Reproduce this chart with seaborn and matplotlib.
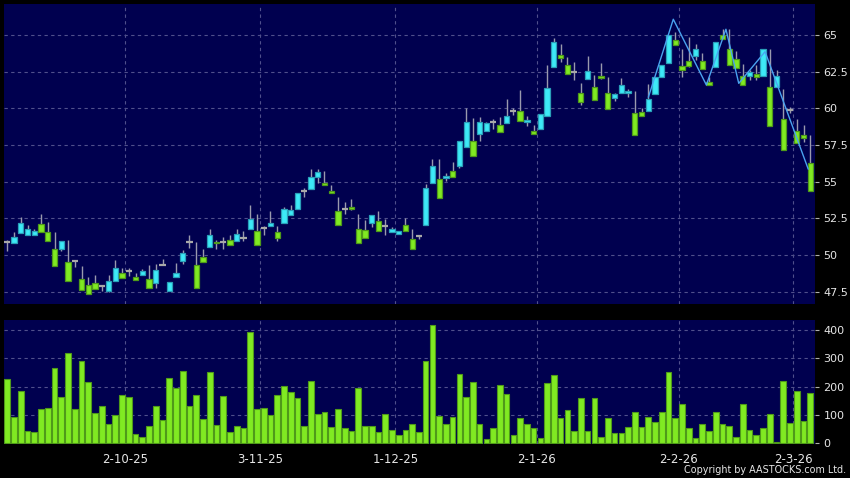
import numpy as np
import pandas as pd
import matplotlib
matplotlib.use("Agg")
import matplotlib.pyplot as plt
import seaborn as sns

# HK trading days, 5 Sep 2025 - 4 Mar 2026
holidays = ['2025-10-01', '2025-10-07', '2025-10-29', '2025-12-25', '2025-12-26',
            '2026-01-01', '2026-02-17', '2026-02-18', '2026-02-19']
dates = pd.bdate_range('2025-09-05', '2026-03-04')
dates = dates[~dates.isin(pd.to_datetime(holidays))]

opens = [50.90, 50.84, 51.52, 51.34, 51.34, 52.66, 52.23, 51.55, 50.43, 50.89,
         49.59, 49.16, 48.52, 48.48, 47.91, 47.52, 48.20, 49.09, 48.89, 48.75,
         48.66, 49.00, 48.07, 49.30, 47.52, 48.52, 49.57, 50.87, 50.87, 50.25,
         50.52, 51.00, 50.89, 51.39, 50.98, 51.18, 51.80, 52.57, 51.86, 52.00,
         51.95, 52.16, 52.70, 53.12, 54.34, 54.48, 55.34, 55.10, 54.57, 53.98,
         53.12, 53.39, 52.80, 52.25, 52.20, 52.95, 51.98, 51.59, 51.43, 52.39,
         51.75, 51.30, 52.02, 54.93, 56.52, 55.25, 56.07, 56.07, 57.39, 58.84,
         58.23, 58.43, 59.04, 59.39, 59.02, 59.84, 60.57, 59.07, 58.73, 58.61,
         59.50, 62.80, 63.88, 63.52, 62.50, 61.70, 62.02, 62.30, 62.34, 62.16,
         60.70, 61.02, 61.02, 61.16, 60.02, 59.80, 60.98, 62.16, 63.07, 64.98,
         63.15, 63.60, 63.56, 63.75, 61.97, 62.79, 65.20, 65.20, 63.93, 62.79,
         62.20, 62.52, 62.20, 64.06, 61.43, 61.34, 59.88, 59.25, 58.43, 58.20]
closes = [50.90, 51.20, 52.16, 51.75, 51.61, 52.11, 51.59, 50.39, 50.93, 49.55,
          49.59, 48.39, 47.93, 48.07, 47.91, 48.20, 49.09, 48.75, 48.89, 48.52,
          48.89, 48.39, 48.98, 49.30, 48.16, 48.75, 50.12, 50.87, 49.30, 49.89,
          51.34, 50.90, 50.89, 51.02, 51.43, 51.18, 52.43, 51.61, 51.86, 52.18,
          51.55, 53.12, 53.07, 54.20, 54.34, 55.30, 55.64, 54.93, 54.39, 53.02,
          53.12, 53.25, 51.80, 51.70, 52.70, 52.30, 51.98, 51.77, 51.66, 52.02,
          51.07, 51.30, 54.57, 56.07, 55.20, 55.39, 55.70, 57.75, 59.04, 57.80,
          59.04, 58.98, 59.04, 58.89, 59.48, 59.84, 59.84, 59.20, 58.48, 59.59,
          61.36, 64.52, 63.66, 62.93, 62.50, 61.07, 62.57, 61.43, 62.20, 61.07,
          60.98, 61.57, 61.20, 59.66, 59.75, 60.61, 62.16, 62.93, 65.02, 64.66,
          62.88, 63.25, 64.02, 63.20, 61.79, 64.52, 64.97, 64.06, 63.34, 62.20,
          62.47, 62.34, 64.06, 61.43, 62.20, 59.25, 59.88, 58.43, 58.20, 56.29]
highs = [51.00, 51.55, 52.57, 52.05, 51.75, 52.80, 52.23, 51.55, 50.93, 51.02,
         49.66, 49.25, 48.52, 48.61, 47.95, 48.66, 49.66, 49.09, 49.14, 48.75,
         49.07, 49.30, 49.39, 49.75, 48.16, 49.43, 50.34, 51.34, 50.87, 50.43,
         51.80, 51.00, 51.20, 51.39, 51.80, 51.66, 53.40, 52.80, 52.00, 53.00,
         51.95, 53.30, 53.39, 54.20, 54.57, 55.84, 55.84, 55.70, 54.75, 53.98,
         53.60, 53.80, 52.80, 52.40, 52.70, 53.00, 52.48, 51.93, 51.66, 52.50,
         51.75, 51.35, 54.84, 56.52, 56.52, 55.57, 56.34, 57.75, 60.02, 59.34,
         59.39, 59.10, 59.30, 59.39, 60.66, 60.02, 61.25, 59.48, 58.89, 59.59,
         62.98, 64.80, 64.39, 63.52, 63.16, 61.70, 63.57, 62.30, 63.07, 62.16,
         61.07, 62.07, 61.34, 61.16, 60.02, 61.66, 62.16, 62.93, 65.02, 65.20,
         64.06, 64.88, 64.38, 63.75, 62.15, 64.52, 65.38, 65.38, 63.93, 63.02,
         62.61, 62.97, 64.06, 64.06, 62.61, 61.34, 60.10, 59.25, 58.84, 58.20]
lows = [50.25, 50.84, 51.50, 51.34, 51.34, 52.00, 51.34, 50.39, 50.30, 49.20,
        49.20, 48.30, 47.80, 47.84, 47.55, 47.50, 48.20, 48.60, 48.57, 48.34,
        48.66, 47.98, 47.75, 49.30, 47.52, 48.52, 49.39, 50.48, 48.93, 49.66,
        50.52, 50.43, 50.43, 50.80, 50.98, 50.93, 51.80, 51.61, 51.39, 52.00,
        50.98, 52.16, 52.70, 53.12, 53.98, 54.48, 54.93, 54.75, 54.20, 53.02,
        52.80, 53.07, 51.70, 51.60, 51.93, 52.30, 51.34, 51.59, 51.40, 52.00,
        51.00, 51.10, 52.02, 54.93, 54.93, 55.07, 55.70, 55.93, 57.39, 57.39,
        57.80, 58.43, 58.61, 58.57, 59.02, 59.52, 59.70, 58.80, 58.40, 58.61,
        59.50, 62.80, 63.16, 62.52, 61.90, 60.20, 62.02, 60.75, 62.02, 61.07,
        60.52, 61.02, 60.80, 59.43, 59.57, 59.80, 60.98, 62.16, 63.07, 64.30,
        62.15, 62.84, 63.29, 62.84, 61.56, 62.79, 64.93, 63.56, 63.34, 61.66,
        61.93, 61.93, 62.20, 61.06, 61.43, 59.25, 59.66, 58.43, 57.70, 55.88]
volumes = [225, 92, 184, 43, 41, 121, 126, 264, 162, 319,
           121, 289, 217, 107, 133, 67, 100, 169, 162, 32,
           21, 63, 133, 83, 229, 194, 256, 133, 170, 85,
           251, 65, 167, 41, 61, 56, 393, 120, 123, 101,
           170, 201, 182, 158, 61, 221, 103, 110, 58, 122,
           55, 42, 195, 61, 61, 39, 102, 49, 29, 49,
           69, 39, 290, 415, 95, 68, 92, 245, 165, 217,
           70, 15, 55, 205, 175, 30, 88, 70, 55, 18,
           212, 240, 90, 118, 45, 160, 45, 160, 22, 88,
           38, 35, 58, 110, 58, 92, 75, 110, 250, 88,
           140, 55, 20, 68, 42, 110, 68, 62, 22, 138,
           48, 28, 55, 105, 5, 218, 72, 185, 78, 178]

# thin blue line (day index, price)
line_x = [95.0, 98.7, 103.6, 106.5, 108.4, 112.3, 118.7]
line_y = [60.75, 66.07, 61.59, 65.39, 61.70, 63.86, 55.85]

price_ticks = [47.5, 50, 52.5, 55, 57.5, 60, 62.5, 65]
vol_ticks = [0, 100, 200, 300, 400]

df = pd.DataFrame({'date': dates, 'open': opens, 'high': highs, 'low': lows,
                   'close': closes, 'volume': volumes})
df['idx'] = np.arange(len(df))

# first trading day of each month (skip the partial first month)
new_month = df['date'].dt.month != df['date'].shift().dt.month
month_starts = df[new_month].iloc[1:]
tick_pos = month_starts['idx'] - 0.5
tick_lab = [f"{d.day}-{d.month}-{d:%y}" for d in month_starts['date']]

sns.set_style("dark")
plt.rcParams['font.family'] = ['DejaVu Sans']

bg = '#00004f'
grid_c = '#50508c'
text_c = '#e6e6e6'
cyan, cyan_edge = '#3de9f7', '#2a9fb8'
green, green_edge = '#80ea22', '#4f9a1a'
wick_c = '#9a9aae'

fig = plt.figure(figsize=(8.5, 4.78), dpi=100, facecolor='black')
ax = fig.add_axes([4 / 850, 174 / 478, 811 / 850, 300 / 478])
axv = fig.add_axes([4 / 850, 33.7 / 478, 811 / 850, 124.6 / 478])

for a in (ax, axv):
    a.set_facecolor(bg)
    for s in a.spines.values():
        s.set_visible(False)
    a.set_xlim(-0.49, 119.7)
    for p in tick_pos:
        a.axvline(p, color=grid_c, lw=0.8, ls=(0, (3, 3)), zorder=1)
    a.yaxis.tick_right()
    a.tick_params(axis='y', colors='#b0b0b0', labelcolor=text_c, length=3,
                  width=0.8, pad=3, labelsize=8)
    a.grid(False)

# candles
up = df[df['close'] > df['open']]
down = df[df['close'] < df['open']]
flat = df[df['close'] == df['open']]
ax.vlines(df['idx'], df['low'], df['high'], color=wick_c, lw=1, zorder=2)
ax.bar(up['idx'], up['close'] - up['open'], bottom=up['open'], width=0.78,
       color=cyan, edgecolor=cyan_edge, linewidth=0.9, zorder=3)
ax.bar(down['idx'], down['close'] - down['open'], bottom=down['close'], width=0.78,
       color=green, edgecolor=green_edge, linewidth=0.9, zorder=3)
ax.hlines(flat['close'], flat['idx'] - 0.45, flat['idx'] + 0.45, color='#a8a8a8',
          lw=1.6, zorder=3)
sns.lineplot(x=line_x, y=line_y, ax=ax, color='#4aa3f0', lw=1.0, sort=False,
             estimator=None, zorder=4)

ax.set_ylim(46.66, 67.11)
ax.set_yticks(price_ticks)
ax.set_yticklabels([f"{t:g}" for t in price_ticks])
for t in price_ticks:
    ax.axhline(t, color=grid_c, lw=0.8, ls=(0, (3, 3)), zorder=1)
ax.set_xticks([])
ax.set_xlabel('')
ax.set_ylabel('')

# volume
sns.barplot(data=df, x='idx', y='volume', native_scale=True, ax=axv, color=green,
            edgecolor=green_edge, linewidth=0.8, width=0.84, saturation=1,
            errorbar=None, zorder=3)
axv.set_xlim(-0.49, 119.7)
axv.set_ylim(-3, 435)
axv.set_yticks(vol_ticks)
axv.set_yticklabels([str(t) for t in vol_ticks])
for t in vol_ticks[1:]:
    axv.axhline(t, color=grid_c, lw=0.8, ls=(0, (3, 3)), zorder=1)
axv.set_xticks(tick_pos)
axv.set_xticklabels(tick_lab)
axv.tick_params(axis='x', colors='#b0b0b0', labelcolor=text_c, length=3,
                width=0.8, pad=3, labelsize=8.5)
axv.set_xlabel('')
axv.set_ylabel('')

fig.text(0.995, 0.006, 'Copyright by AASTOCKS.com Ltd.', ha='right', va='bottom',
         color=text_c, fontsize=6.9)

fig.savefig('out.png', dpi=100, facecolor='black')
